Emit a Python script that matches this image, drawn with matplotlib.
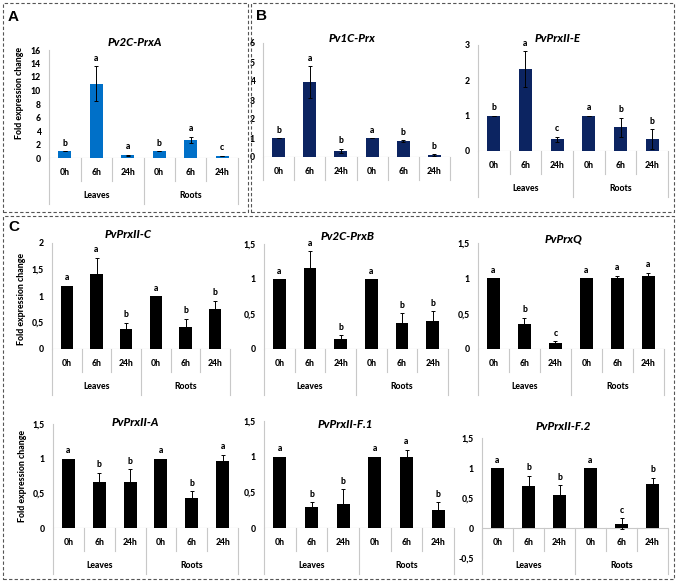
import numpy as np
import matplotlib
matplotlib.use('Agg')
import matplotlib.pyplot as plt
from matplotlib.patches import Rectangle
from matplotlib.ticker import FuncFormatter, MultipleLocator

plt.rcParams['font.family'] = ['Lato', 'DejaVu Sans']

W, H = 676, 581

# categories
times = ['0h', '6h', '24h', '0h', '6h', '24h']
tissues = ['Leaves', 'Roots']

# gene titles
genes = ['Pv2C-PrxA', 'Pv1C-Prx', 'PvPrxII-E',
         'PvPrxII-C', 'Pv2C-PrxB', 'PvPrxQ',
         'PvPrxII-A', 'PvPrxII-F.1', 'PvPrxII-F.2']

# fold expression change (mean), error and significance letters
prxA_mean = [1.0, 11.0, 0.40, 1.0, 2.70, 0.33]
prxA_err = [0.0, 2.6, 0.05, 0.0, 0.45, 0.04]
prxA_let = ['b', 'a', 'a', 'b', 'a', 'c']

prx1c_mean = [1.0, 3.93, 0.33, 1.0, 0.85, 0.10]
prx1c_err = [0.0, 0.85, 0.10, 0.0, 0.04, 0.04]
prx1c_let = ['b', 'a', 'b', 'a', 'b', 'b']

prxIIE_mean = [1.0, 2.32, 0.33, 1.0, 0.67, 0.33]
prxIIE_err = [0.0, 0.50, 0.08, 0.0, 0.27, 0.28]
prxIIE_let = ['b', 'a', 'c', 'a', 'b', 'b']

prxIIC_mean = [1.19, 1.41, 0.38, 1.0, 0.42, 0.76]
prxIIC_err = [0.0, 0.31, 0.12, 0.0, 0.15, 0.15]
prxIIC_let = ['a', 'a', 'b', 'a', 'b', 'b']

prxB_mean = [1.0, 1.16, 0.15, 1.0, 0.37, 0.40]
prxB_err = [0.0, 0.24, 0.05, 0.0, 0.14, 0.14]
prxB_let = ['a', 'a', 'b', 'a', 'b', 'b']

prxQ_mean = [1.0, 0.36, 0.08, 1.0, 1.0, 1.04]
prxQ_err = [0.0, 0.08, 0.03, 0.0, 0.04, 0.04]
prxQ_let = ['a', 'b', 'c', 'a', 'a', 'a']

prxIIA_mean = [1.0, 0.66, 0.66, 1.0, 0.43, 0.96]
prxIIA_err = [0.0, 0.14, 0.19, 0.0, 0.10, 0.10]
prxIIA_let = ['a', 'b', 'b', 'a', 'b', 'a']

prxIIF1_mean = [1.0, 0.29, 0.34, 1.0, 1.0, 0.25]
prxIIF1_err = [0.0, 0.07, 0.20, 0.0, 0.10, 0.11]
prxIIF1_let = ['a', 'b', 'b', 'a', 'a', 'b']

prxIIF2_mean = [1.0, 0.70, 0.55, 1.0, 0.07, 0.74]
prxIIF2_err = [0.0, 0.17, 0.16, 0.0, 0.09, 0.10]
prxIIF2_let = ['a', 'b', 'b', 'a', 'c', 'b']

means = [prxA_mean, prx1c_mean, prxIIE_mean, prxIIC_mean, prxB_mean,
         prxQ_mean, prxIIA_mean, prxIIF1_mean, prxIIF2_mean]
errs = [prxA_err, prx1c_err, prxIIE_err, prxIIC_err, prxB_err,
        prxQ_err, prxIIA_err, prxIIF1_err, prxIIF2_err]
letters = [prxA_let, prx1c_let, prxIIE_let, prxIIC_let, prxB_let,
           prxQ_let, prxIIA_let, prxIIF1_let, prxIIF2_let]

# y ranges and tick steps
ylims = [(0, 16), (0, 6), (0, 3), (0, 2), (0, 1.5), (0, 1.5),
         (0, 1.5), (0, 1.5), (-0.5, 1.5)]
ysteps = [2, 1, 1, 0.5, 0.5, 0.5, 0.5, 0.5, 0.5]

# layout in pixels: left, right, y of ymin, y of ymax
boxes = [(49, 238, 158, 50), (263, 450, 157, 43), (478, 668, 151, 45),
         (52, 230, 349, 243), (264, 448, 349, 244), (478, 664, 349, 243),
         (53, 238, 528, 424), (264, 454, 528, 421), (482, 668, 558, 438)]
title_xy = [(135, 42), (352, 38), (558, 39), (128, 234), (348, 237),
            (564, 239), (135, 423), (345, 424), (563, 427)]
colors = ['#0070C8', '#0C2461', '#0C2461'] + ['black'] * 6
show_groups = [True, False, True, True, True, True, True, True, True]
ylabel_xy = {0: (20, 93), 3: (22, 299), 6: (23, 476)}

grid_col = '#C8C8C8'
fs = 6.2
fig = plt.figure(figsize=(W / 100, H / 100), dpi=100)

comma = FuncFormatter(lambda v, p: ('%g' % v).replace('.', ','))

for k in range(9):
    l, r, yb, yt = boxes[k]
    ymin, ymax = ylims[k]
    ax = fig.add_axes([l / W, 1 - yb / H, (r - l) / W, (yb - yt) / H])
    ax.set_xlim(-0.5, 5.5)
    ax.set_ylim(ymin, ymax)
    ppu = (yb - yt) / (ymax - ymin)
    x = np.arange(len(times))

    ax.bar(x, means[k], width=0.42, color=colors[k], zorder=2)
    ax.errorbar(x, means[k], yerr=errs[k], fmt='none', ecolor='black',
                elinewidth=0.7, capsize=1.6, capthick=0.7, zorder=3)
    for xi, m, e, t in zip(x, means[k], errs[k], letters[k]):
        ax.annotate(t, (xi, m + e), xytext=(0, 2.5), textcoords='offset points',
                    ha='center', va='bottom', fontsize=fs, fontweight='black')

    for s in ['top', 'right', 'bottom']:
        ax.spines[s].set_visible(False)
    ax.spines['left'].set_color(grid_col)
    ax.spines['left'].set_linewidth(0.8)
    ax.axhline(0, color=grid_col, lw=0.8, zorder=1)
    ax.set_xticks([])
    ax.yaxis.set_major_locator(MultipleLocator(ysteps[k]))
    ax.yaxis.set_major_formatter(comma)
    ax.tick_params(axis='y', length=0, pad=6, labelsize=fs)
    for lab in ax.get_yticklabels():
        lab.set_fontweight('black')

    # multi-level category axis
    for i, xd in enumerate(np.arange(-0.5, 6, 1.0)):
        outer = show_groups[k] and i in (0, 3, 6)
        length = 46 if outer else 23
        ax.plot([xd, xd], [0, -length / ppu], color=grid_col, lw=0.8,
                clip_on=False)
    for xi, t in zip(x, times):
        ax.text(xi, -14.5 / ppu, t, ha='center', va='center', fontsize=fs,
                fontweight='black')
    if show_groups[k]:
        for xi, t in zip([1, 4], tissues):
            ax.text(xi, -37.5 / ppu, t, ha='center', va='center',
                    fontsize=fs, fontweight='black')

    tx, ty = title_xy[k]
    fig.text(tx / W, 1 - ty / H, genes[k], ha='center', va='center',
             fontsize=8.3, fontweight='black', fontstyle='italic')
    if k in ylabel_xy:
        lx, ly = ylabel_xy[k]
        fig.text(lx / W, 1 - ly / H, 'Fold expression change', rotation=90,
                 ha='center', va='center', fontsize=6.3, fontweight='black')

# dashed panel frames
for x0, y0, x1, y1 in [(3, 3, 248, 212), (251, 3, 674, 212), (3, 216, 674, 579)]:
    fig.patches.append(Rectangle((x0 / W, 1 - y1 / H), (x1 - x0) / W,
                                 (y1 - y0) / H, transform=fig.transFigure,
                                 fill=False, ec='#555555', lw=0.8,
                                 ls=(0, (3, 2))))

for t, px, py in [('A', 8, 17), ('B', 256, 16), ('C', 8, 227)]:
    fig.text(px / W, 1 - py / H, t, ha='left', va='center', fontsize=11,
             fontweight='bold', family=['Liberation Sans', 'DejaVu Sans'])

fig.savefig('out.png', dpi=100)
